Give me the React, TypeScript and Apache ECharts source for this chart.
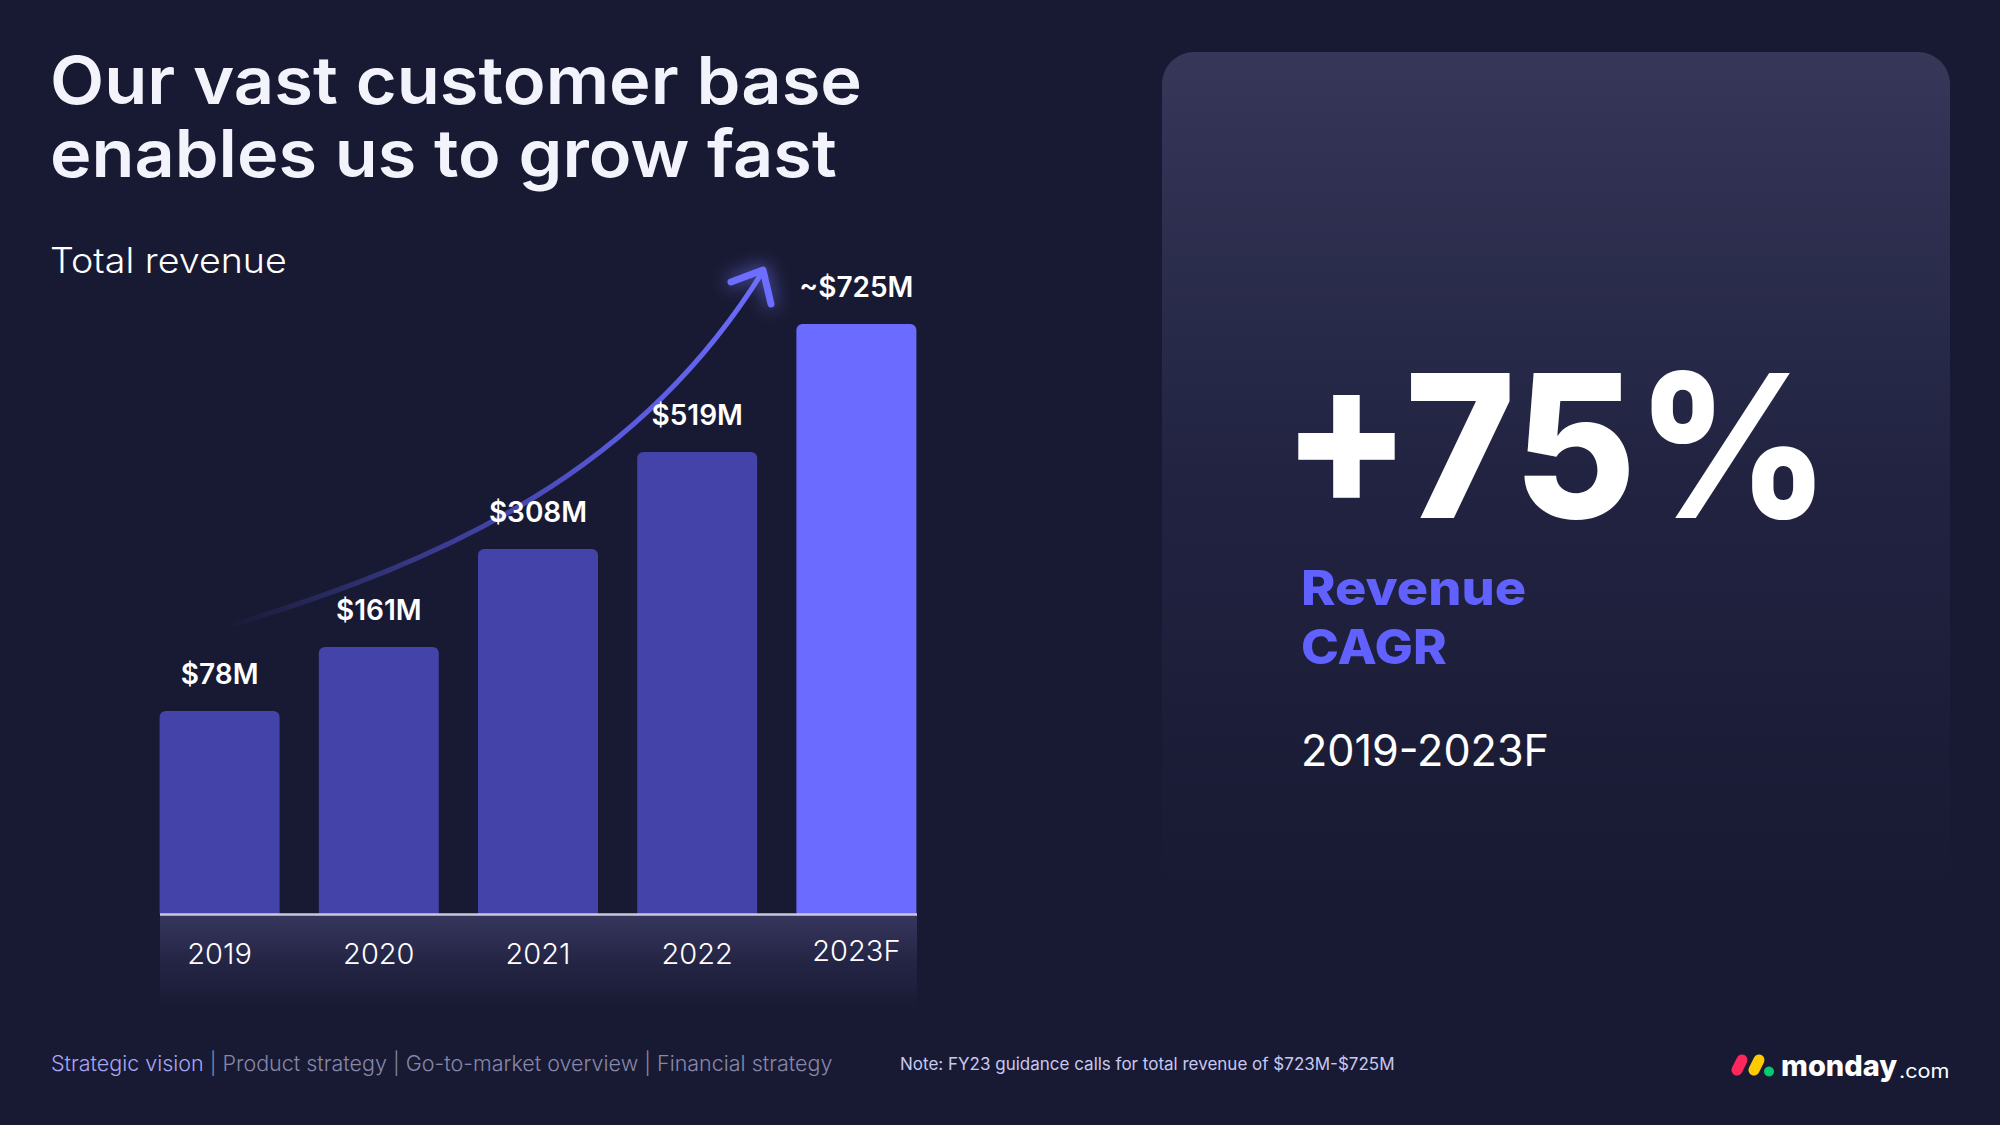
import React, { useEffect, useRef } from 'react';
import * as echarts from 'echarts';

// ---- data ----
const categories = ['2019', '2020', '2021', '2022', '2023F'];
const revenueValues = [78, 161, 308, 519, 725]; // $M
const forecastFlags = [false, false, false, false, true];
// bar heights as drawn on the slide (stylised, not to scale)
const barHeights = [203, 267, 365, 462, 590];

const titleLines = ['Our vast customer base', 'enables us to grow fast'];
const subtitle = 'Total revenue';
const kpiValue = '+75%';
const kpiLabelLines = ['Revenue', 'CAGR'];
const kpiPeriod = '2019-2023F';
const navActive = 'Strategic vision';
const navRest = ' | Product strategy | Go-to-market overview | Financial strategy';
const noteText = 'Note: FY23 guidance calls for total revenue of $723M-$725M';

const BG = '#181a33';
const FONT = 'Inter, "Open Sans", sans-serif';

function fmtLabel(i: number) {
  return (forecastFlags[i] ? '~' : '') + '$' + revenueValues[i] + 'M';
}

export default function App() {
  const ref = useRef<HTMLDivElement>(null);
  useEffect(() => {
    document.body.style.margin = '0';
    const chart = echarts.init(ref.current!, null, { renderer: 'svg', width: 2000, height: 1125 });
    const txt = (
      x: number,
      y: number,
      text: string,
      size: number,
      weight: any,
      fill: string,
      sx = 1,
      extra: any = {}
    ) => ({
      type: 'text',
      x,
      y,
      scaleX: sx,
      z: 20,
      style: {
        text,
        fill,
        fontSize: size,
        fontWeight: weight,
        fontFamily: FONT,
        textAlign: 'left',
        textVerticalAlign: 'middle',
        ...extra,
      },
    });
    chart.setOption({
      animation: false,
      backgroundColor: BG,
      grid: { left: 140, right: 1064, top: 214, bottom: 211, containLabel: false },
      xAxis: {
        type: 'category',
        data: categories.map((c, i) =>
          forecastFlags[i] ? { value: c, textStyle: { lineHeight: 24 } } : c
        ),
        axisLine: { show: false },
        axisTick: { show: false },
        axisLabel: {
          color: '#ffffff',
          fontSize: 29,
          fontWeight: 300,
          fontFamily: FONT,
          lineHeight: 30,
          margin: 24,
        },
        z: 10,
      },
      yAxis: { type: 'value', min: 0, max: 700, show: false, splitLine: { show: false } },
      series: [
        {
          type: 'bar',
          barWidth: 120,
          data: barHeights.map((v, i) => ({
            value: v,
            itemStyle: { color: forecastFlags[i] ? '#6b6bff' : '#4343a9', borderRadius: [6, 6, 0, 0] },
          })),
          label: {
            show: true,
            position: 'top',
            distance: 23,
            color: '#ffffff',
            fontSize: 28,
            fontWeight: 600,
            fontFamily: FONT,
            lineHeight: 28,
            formatter: (p: any) => fmtLabel(p.dataIndex),
          },
          z: 5,
        },
      ],
      graphic: {
        elements: [
          // right panel
          {
            type: 'rect',
            z: 0,
            shape: { x: 1162, y: 52, width: 788, height: 850, r: 32 },
            style: {
              fill: new echarts.graphic.LinearGradient(0, 0, 0, 1, [
                { offset: 0, color: '#363759' },
                { offset: 0.5, color: '#212341' },
                { offset: 1, color: BG },
              ]),
            },
          },
          // axis band
          {
            type: 'rect',
            z: 1,
            shape: { x: 160, y: 914, width: 757, height: 95 },
            style: {
              fill: new echarts.graphic.LinearGradient(0, 0, 0, 1, [
                { offset: 0, color: '#37375e' },
                { offset: 0.5, color: '#242545' },
                { offset: 1, color: BG },
              ]),
            },
          },
          {
            type: 'line',
            z: 30,
            shape: { x1: 160, y1: 914.5, x2: 917, y2: 914.5 },
            style: { stroke: '#c9c9dc', lineWidth: 2.5 },
          },
          // growth arrow
          {
            type: 'bezierCurve',
            z: 3,
            shape: { x1: 225, y1: 627, cpx1: 450, cpy1: 560, cpx2: 640, cpy2: 470, x2: 763, y2: 271 },
            style: {
              fill: null,
              lineWidth: 5,
              lineCap: 'round',
              stroke: new echarts.graphic.LinearGradient(225, 627, 763, 271, [
                { offset: 0, color: 'rgba(80,80,200,0)' },
                { offset: 0.3, color: 'rgba(80,80,205,0.55)' },
                { offset: 0.65, color: 'rgba(95,95,235,0.9)' },
                { offset: 1, color: '#6d6dff' },
              ], true),
            },
          },
          {
            type: 'polyline',
            z: 3,
            shape: { points: [[731, 282], [763, 270], [771, 304]] },
            style: {
              fill: null,
              stroke: '#6d6dff',
              lineWidth: 7,
              lineCap: 'round',
              lineJoin: 'round',
              shadowBlur: 18,
              shadowColor: 'rgba(120,120,255,0.9)',
            },
          },
          // texts
          txt(50, 80, titleLines[0], 66, 600, '#f2f3fb', 1.068),
          txt(50, 153, titleLines[1], 66, 600, '#f2f3fb', 1.064),
          txt(50, 260, subtitle, 35, 300, '#ffffff', 1.075),
          txt(1282, 445, kpiValue, 200, 800, '#ffffff', 0.94, { lineHeight: 150 }),
          txt(1301, 587, kpiLabelLines[0], 48, 800, '#6161ff', 1.09, { lineHeight: 50 }),
          txt(1301, 647, kpiLabelLines[1], 48, 800, '#6161ff', 1.065, { lineHeight: 50 }),
          txt(1301, 750, kpiPeriod, 44, 400, '#ffffff', 0.98),
          {
            type: 'text',
            x: 51,
            y: 1063,
            z: 20,
            style: {
              text: '{a|' + navActive + '}{b|' + navRest + '}',
              textVerticalAlign: 'middle',
              rich: {
                a: { fill: '#a6a6f4', fontSize: 21.5, fontWeight: 300, fontFamily: FONT },
                b: { fill: '#8787a9', fontSize: 21.5, fontWeight: 300, fontFamily: FONT },
              },
            },
          },
          txt(900, 1064, noteText, 17, 400, '#c8c8f2'),
          // monday.com logo
          {
            type: 'line',
            z: 20,
            shape: { x1: 1737, y1: 1070, x2: 1742, y2: 1060 },
            style: { stroke: '#fb275d', lineWidth: 11, lineCap: 'round' },
          },
          {
            type: 'line',
            z: 20,
            shape: { x1: 1754, y1: 1070, x2: 1759, y2: 1060 },
            style: { stroke: '#ffcb00', lineWidth: 11, lineCap: 'round' },
          },
          {
            type: 'circle',
            z: 20,
            shape: { cx: 1769, cy: 1071.5, r: 5 },
            style: { fill: '#00ca72' },
          },
          txt(1781, 1065, 'monday', 29, 800, '#ffffff'),
          txt(1899, 1071, '.com', 20, 400, '#ffffff', 1.08),
        ],
      },
    });
    return () => chart.dispose();
  }, []);
  return <div ref={ref} style={{ width: 2000, height: 1125 }} />;
}
